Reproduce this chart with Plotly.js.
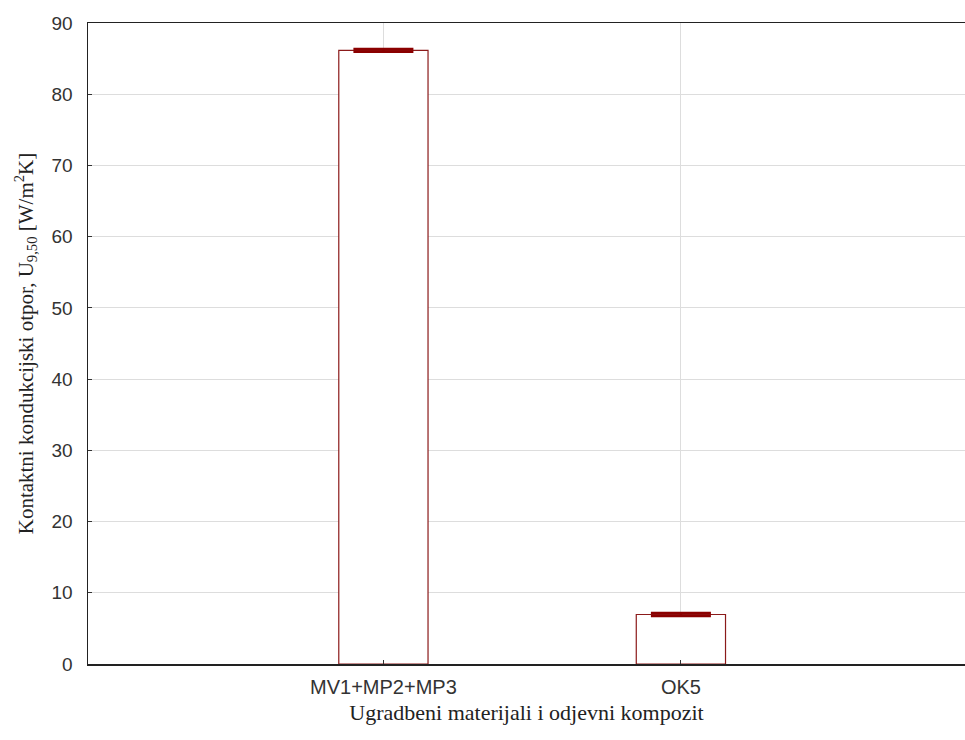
<!DOCTYPE html>
<html>
<head>
<meta charset="utf-8">
<script src="https://cdn.plot.ly/plotly-3.0.1.min.js"></script>
<style>html,body{margin:0;padding:0;background:#fff;}#chart{width:965px;height:740px;}</style>
</head>
<body>
<div id="chart"></div>
<script>
const categories = ["MV1+MP2+MP3", "OK5"];
const means = [86.15, 6.95];
const errors = [0.2, 0.2];
const yTicks = [0, 10, 20, 30, 40, 50, 60, 70, 80, 90];

const trace = {
  type: "bar",
  x: [0, 1],
  y: means,
  width: 0.3,
  marker: {color: "#ffffff", line: {color: "#8b1a1a", width: 1.2}},
  error_y: {type: "data", array: errors, visible: true, color: "#8b0000", thickness: 2.5, width: 30},
  hoverinfo: "none"
};

const layout = {
  width: 965, height: 740,
  margin: {l: 88, r: 0, t: 23, b: 76},
  paper_bgcolor: "#ffffff", plot_bgcolor: "#ffffff",
  showlegend: false,
  xaxis: {
    range: [-0.993, 1.955],
    tickvals: [0, 1], ticktext: categories,
    ticks: "inside", ticklen: 4, tickcolor: "#333",
    showline: true, linecolor: "#222", linewidth: 1.5, mirror: true,
    showgrid: true, gridcolor: "#dddddd", gridwidth: 1,
    zeroline: false,
    tickfont: {family: "Liberation Sans, Arial, sans-serif", size: 20, color: "#333"},
    ticklabelstandoff: 4,
    title: {text: "Ugradbeni materijali i odjevni kompozit", font: {family: "Liberation Serif, serif", size: 22, color: "#222"}, standoff: 8}
  },
  yaxis: {
    range: [0, 90],
    tickvals: yTicks,
    ticks: "inside", ticklen: 4, tickcolor: "#333",
    showline: true, linecolor: "#222", linewidth: 1.5,
    showgrid: true, gridcolor: "#dddddd", gridwidth: 1,
    zeroline: false,
    tickfont: {family: "Liberation Sans, Arial, sans-serif", size: 19, color: "#333"},
    ticklabelstandoff: 10,
    title: {text: "Kontaktni kondukcijski otpor, U<sub>9,50</sub> [W/m<sup>2</sup>K]", font: {family: "Liberation Serif, serif", size: 21, color: "#222"}, standoff: 12}
  }
};

Plotly.newPlot("chart", [trace], layout, {displayModeBar: false, staticPlot: true});
</script>
</body>
</html>
